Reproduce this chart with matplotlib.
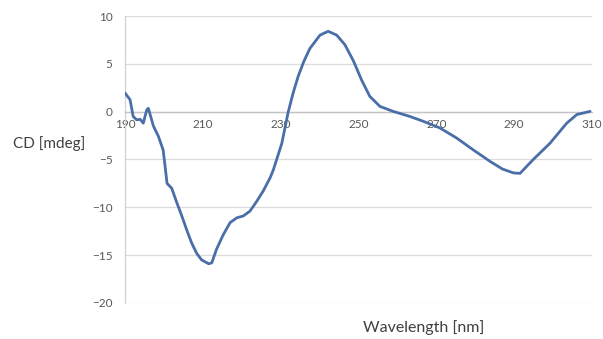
import matplotlib
matplotlib.use("Agg")
import matplotlib.pyplot as plt

# CD spectrum, wavelength in nm vs ellipticity in mdeg
wavelength = [
    190.0, 191.3, 192.1, 193.0, 193.9, 194.7, 195.6, 196.0, 197.3, 198.6,
    199.8, 200.3, 200.8, 202.0, 203.3, 204.6, 205.8, 207.1, 208.4, 209.7,
    211.5, 212.3, 213.5, 215.2, 217.0, 218.7, 220.4, 222.1, 223.8, 225.5,
    227.3, 228.1, 230.3, 231.9, 233.2, 234.5, 236.0, 237.5, 240.1, 242.2,
    244.4, 246.5, 248.7, 250.8, 252.9, 255.5, 258.9, 263.2, 266.6, 270.9,
    275.2, 279.5, 283.8, 287.0, 289.8, 291.5, 294.9, 299.2, 303.5, 306.1,
    309.5,
]
cd_mdeg = [
    1.95, 1.25, -0.5, -0.85, -0.8, -1.2, 0.2, 0.35, -1.5, -2.6,
    -4.0, -5.7, -7.5, -8.0, -9.5, -10.9, -12.3, -13.7, -14.8, -15.5,
    -15.9, -15.8, -14.4, -12.9, -11.6, -11.1, -10.9, -10.4, -9.4, -8.3,
    -6.9, -6.1, -3.3, -0.1, 1.95, 3.7, 5.3, 6.6, 8.0, 8.4,
    8.0, 7.0, 5.3, 3.3, 1.6, 0.55, 0.03, -0.5, -1.0, -1.7,
    -2.75, -4.0, -5.2, -6.0, -6.4, -6.45, -5.0, -3.3, -1.2, -0.3,
    0.03,
]
x_ticks = [190, 210, 230, 250, 270, 290, 310]
y_ticks = [-20, -15, -10, -5, 0, 5, 10]

plt.rcParams["font.family"] = ["Lato", "DejaVu Sans"]

fig = plt.figure(figsize=(6.03, 3.39), dpi=100)
ax = fig.add_axes([0.2073, 0.1062, 0.7745, 0.8466])

ax.plot(wavelength, cd_mdeg, color="#4a6ea8", linewidth=2.0,
        solid_joinstyle="round", solid_capstyle="round", zorder=3)

ax.set_xlim(190, 310)
ax.set_ylim(-20, 10)
ax.set_xticks(x_ticks)
ax.set_yticks(y_ticks)

ax.grid(axis="y", color="#dcdcdc", linewidth=0.9, zorder=0)
for side in ("top", "right"):
    ax.spines[side].set_visible(False)
ax.spines["left"].set_color("#d0d0d0")
ax.spines["left"].set_linewidth(0.9)
ax.spines["bottom"].set_position(("data", 0))
ax.spines["bottom"].set_color("#c4c4c4")
ax.spines["bottom"].set_linewidth(1.0)

ax.tick_params(axis="both", length=0, labelsize=8.5, labelcolor="#595959")
ax.tick_params(axis="y", pad=9)
ax.tick_params(axis="x", pad=5)

fig.text(0.022, 0.578, "CD [mdeg]", fontsize=11, color="#404040",
         ha="left", va="center")
fig.text(0.703, 0.035, "Wavelength [nm]", fontsize=11.5, color="#404040",
         ha="center", va="center")

fig.savefig("out.png", dpi=100, facecolor="white")
